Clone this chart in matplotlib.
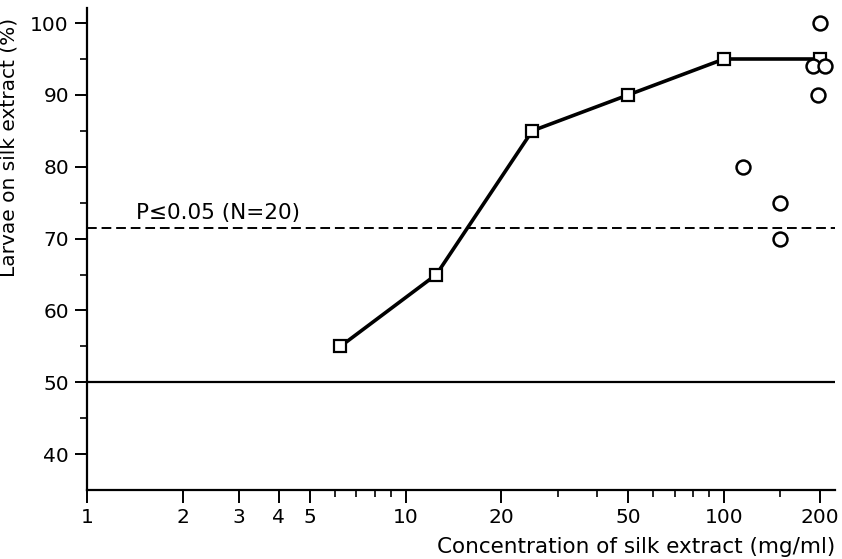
import numpy as np
import matplotlib.pyplot as plt
from matplotlib.ticker import FixedLocator, NullFormatter

# data
conc = [6.25, 12.5, 25, 50, 100, 200]
larvae = [55, 65, 85, 90, 95, 95]

single_conc = [200, 190, 207, 197, 115, 150, 150]
single_larvae = [100, 94, 94, 90, 80, 75, 70]

p_level = 71.5
chance = 50

major_x = [1, 2, 3, 4, 5, 10, 20, 50, 100, 200]
minor_x = [6, 7, 8, 9, 30, 40, 60, 70, 80, 90, 150]
major_y = [40, 50, 60, 70, 80, 90, 100]
minor_y = [45, 55, 65, 75, 85, 95]

plt.rcParams['font.family'] = ['DejaVu Sans']
fig = plt.figure(figsize=(8.42, 5.59), dpi=100)
ax = fig.add_axes([0.1033, 0.1234, 0.8884, 0.8623])

ax.set_xscale('log')
ax.set_xlim(1, 223)
ax.set_ylim(35, 102.1)

ax.axhline(chance, color='black', lw=1.6)
ax.axhline(p_level, color='black', lw=1.4, ls=(0, (5, 2.5)))

ax.plot(conc, larvae, color='black', lw=2.6, marker='s', ms=9,
        mfc='white', mec='black', mew=1.6, zorder=3)
ax.plot(single_conc, single_larvae, ls='none', marker='o', ms=10,
        mfc='white', mec='black', mew=1.8, zorder=4)

ax.text(1.43, 73.6, 'P≤0.05 (N=20)', fontsize=15.5, ha='left', va='center')

for s in ['top', 'right']:
    ax.spines[s].set_visible(False)
for s in ['left', 'bottom']:
    ax.spines[s].set_linewidth(1.6)

ax.xaxis.set_major_locator(FixedLocator(major_x))
ax.xaxis.set_minor_locator(FixedLocator(minor_x))
ax.xaxis.set_minor_formatter(NullFormatter())
ax.set_xticklabels([str(v) for v in major_x])
ax.yaxis.set_major_locator(FixedLocator(major_y))
ax.yaxis.set_minor_locator(FixedLocator(minor_y))

ax.tick_params(which='major', length=9, width=1.4, labelsize=14.5, pad=4)
ax.tick_params(which='minor', length=5, width=1.2)

ax.set_ylabel('Larvae on silk extract (%)', fontsize=14.5)
ax.yaxis.set_label_coords(-0.092, 0.71)
ax.set_xlabel('Concentration of silk extract (mg/ml)', fontsize=15.5,
              ha='right')
ax.xaxis.set_label_coords(1.0, -0.097)

fig.savefig('out.png', dpi=100)
